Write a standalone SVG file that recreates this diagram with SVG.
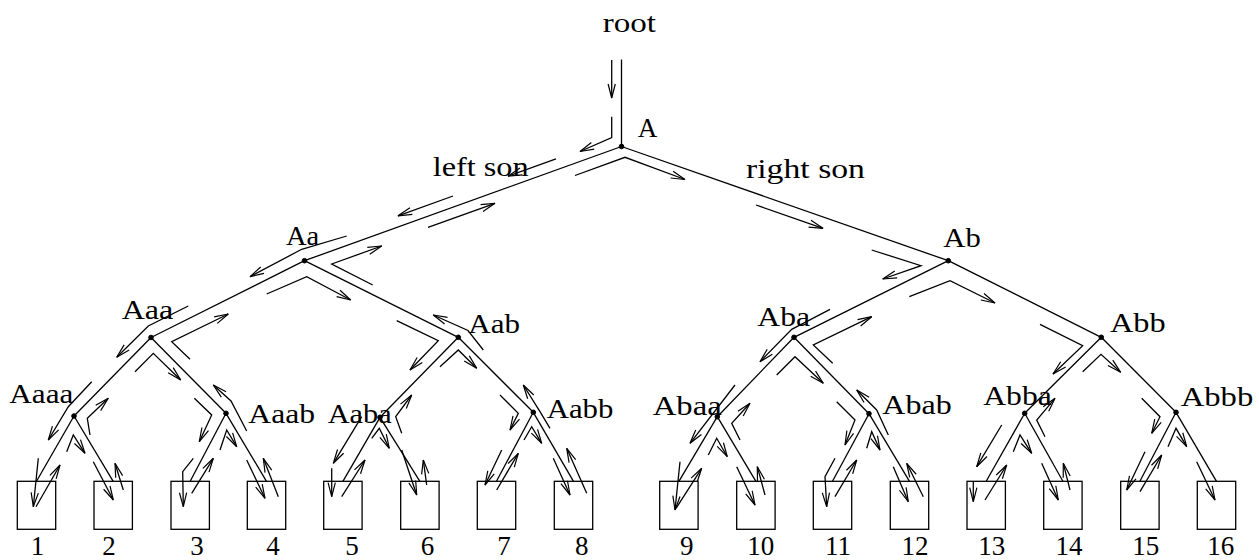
<svg xmlns="http://www.w3.org/2000/svg" width="1259" height="560" viewBox="0 0 1259 560">
<defs>
<style>
.e{stroke:#000;stroke-width:1.3;fill:none}
.t{stroke:#000;stroke-width:1.3;fill:none;marker-end:url(#ah)}
.lbl{font-family:"Liberation Serif",serif;font-size:27px;fill:#000}
.num{font-family:"Liberation Serif",serif;font-size:27px;fill:#000;text-anchor:middle}
.box{fill:none;stroke:#000;stroke-width:1.3}
.dot{fill:#000;stroke:#000;stroke-width:1}
</style>
<marker id="ah" markerUnits="userSpaceOnUse" viewBox="-16 -6 18 12" refX="0" refY="0" markerWidth="18" markerHeight="12" orient="auto" overflow="visible">
<path d="M-14,-3.6 L0,0 L-14,3.6" fill="none" stroke="#000" stroke-width="1.2"/>
</marker>
</defs>
<rect width="1259" height="560" fill="#fff"/>

<g id="edges">
<line class="e" x1="621.5" y1="59.5" x2="621.5" y2="146.5"/>
<line class="e" x1="621.5" y1="146.5" x2="304.5" y2="260.7"/>
<line class="e" x1="621.5" y1="146.5" x2="948.3" y2="260.7"/>
<line class="e" x1="304.5" y1="260.7" x2="151" y2="337.5"/>
<line class="e" x1="304.5" y1="260.7" x2="458.3" y2="337.3"/>
<line class="e" x1="948.3" y1="260.7" x2="794" y2="337.3"/>
<line class="e" x1="948.3" y1="260.7" x2="1101.3" y2="337.3"/>
<line class="e" x1="151" y1="337.5" x2="74" y2="416"/>
<line class="e" x1="151" y1="337.5" x2="226" y2="413.3"/>
<line class="e" x1="458.3" y1="337.3" x2="380" y2="417.3"/>
<line class="e" x1="458.3" y1="337.3" x2="533.3" y2="412.3"/>
<line class="e" x1="794" y1="337.3" x2="717.3" y2="416.7"/>
<line class="e" x1="794" y1="337.3" x2="869" y2="413.7"/>
<line class="e" x1="1101.3" y1="337.3" x2="1024.7" y2="413.3"/>
<line class="e" x1="1101.3" y1="337.3" x2="1176" y2="412.3"/>
<line class="e" x1="74" y1="416" x2="36.5" y2="481.3"/>
<line class="e" x1="74" y1="416" x2="113.2" y2="481.3"/>
<line class="e" x1="226" y1="413.3" x2="190.2" y2="481.3"/>
<line class="e" x1="226" y1="413.3" x2="266.5" y2="481.3"/>
<line class="e" x1="380" y1="417.3" x2="342.9" y2="481.3"/>
<line class="e" x1="380" y1="417.3" x2="419.9" y2="481.3"/>
<line class="e" x1="533.3" y1="412.3" x2="496.5" y2="481.3"/>
<line class="e" x1="533.3" y1="412.3" x2="573.5" y2="481.3"/>
<line class="e" x1="717.3" y1="416.7" x2="678.9" y2="481.3"/>
<line class="e" x1="717.3" y1="416.7" x2="755.9" y2="481.3"/>
<line class="e" x1="869" y1="413.7" x2="832.5" y2="481.3"/>
<line class="e" x1="869" y1="413.7" x2="909.5" y2="481.3"/>
<line class="e" x1="1024.7" y1="413.3" x2="986.2" y2="481.3"/>
<line class="e" x1="1024.7" y1="413.3" x2="1062.9" y2="481.3"/>
<line class="e" x1="1176" y1="412.3" x2="1139.9" y2="481.3"/>
<line class="e" x1="1176" y1="412.3" x2="1216.5" y2="481.3"/>
</g>

<g id="traversal">
<polyline class="t" points="611.7,60 611.7,98"/>
<polyline class="t" points="611.7,116.7 611.7,137.5 580,151.5"/>
<polyline class="t" points="556,158.9 508,176.2"/>
<polyline class="t" points="453,196 398,215.8"/>
<polyline class="t" points="428,227.4 495,203.3"/>
<polyline class="t" points="575,175.5 625,157.3 685,179.5"/>
<polyline class="t" points="756,205 823,228.3"/>
<polyline class="t" points="871.7,250 921,265.7 882.7,279"/>
<polyline class="t" points="909.3,296.7 950,280.7 995,303"/>

<polyline class="t" points="346.7,236 301.7,249.3 250,276.7"/>
<polyline class="t" points="266.7,294 306.7,276.7 350.7,300"/>
<polyline class="t" points="372.7,285 331.7,264 381.7,246"/>

<polyline class="t" points="188.3,306 148.3,326 116.7,357.3"/>
<polyline class="t" points="135,371.7 153.3,353.3 180.7,380"/>
<polyline class="t" points="190,359.3 171.7,341.7 228.3,314"/>

<polyline class="t" points="396.7,320.7 438.3,340.7 410,370"/>
<polyline class="t" points="440,366.7 458.3,350 476.7,368.3"/>
<polyline class="t" points="483.3,350 468,330.5 433.3,315"/>

<polyline class="t" points="830,309.3 791.7,329.3 760,361.7"/>
<polyline class="t" points="776.7,375 795,356.7 823.3,383.3"/>
<polyline class="t" points="832.7,363.3 813.3,345 871.7,316.7"/>

<polyline class="t" points="1040,324.3 1082.7,345.7 1053,374"/>
<polyline class="t" points="1082.7,371.7 1101,354.3 1120.7,372.3"/>

<polyline class="t" points="91.7,381.7 68.3,406.7 48.3,440"/>
<polyline class="t" points="38.3,458.3 33.3,506.7"/>
<polyline class="t" points="36,506.7 60,465"/>
<polyline class="t" points="66.7,451.7 73.3,435 85,453.3"/>
<polyline class="t" points="90,435 87.3,418.3 108.3,398.3"/>
<polyline class="t" points="93.3,461.7 113.3,500"/>
<polyline class="t" points="123.3,490 115,463.3"/>

<polyline class="t" points="194.3,398.3 211.7,415 199.3,441.7"/>
<polyline class="t" points="193.3,458.3 182.7,471.7 183.3,506.7"/>
<polyline class="t" points="191.7,493.3 213.3,458.3"/>
<polyline class="t" points="220,450 226.7,430 236.7,446.7"/>
<polyline class="t" points="246.7,460 265,498.3"/>
<polyline class="t" points="278.3,496.7 263.3,458.3"/>
<polyline class="t" points="246.7,431 231,401 213.3,385"/>

<polyline class="t" points="361.7,416.7 333.3,463.3"/>
<polyline class="t" points="331.7,468.3 331.7,496.7"/>
<polyline class="t" points="341.7,496.7 365,460"/>
<polyline class="t" points="371.7,438.3 379.3,428.3 389.3,448.3"/>
<polyline class="t" points="401.7,433.3 395.7,416.7 411.7,395"/>
<polyline class="t" points="401.7,450 416.7,495"/>
<polyline class="t" points="426.7,485 423.3,460"/>

<polyline class="t" points="500,395 518.3,413.3 510,430"/>
<polyline class="t" points="501.7,450 485,485"/>
<polyline class="t" points="496.7,490 518.3,453.3"/>
<polyline class="t" points="524,440 531.7,426.7 541.7,443.3"/>
<polyline class="t" points="550,428.3 540,411.7 523.3,385"/>
<polyline class="t" points="553.3,458.3 570,495"/>
<polyline class="t" points="586.7,493.3 566.7,448.3"/>

<polyline class="t" points="735,385 690,443.3"/>
<polyline class="t" points="680,461.7 675,510"/>
<polyline class="t" points="676,508.3 701.7,468.3"/>
<polyline class="t" points="708.3,455 716.7,438.3 727.3,456.7"/>
<polyline class="t" points="740,440 731.7,423.3 750,403.3"/>
<polyline class="t" points="736.7,466.7 755,505"/>
<polyline class="t" points="765,495 757.3,466.7"/>

<polyline class="t" points="836.7,401.7 855,420 845,445"/>
<polyline class="t" points="835,458.3 825,476.7 826.7,506.7"/>
<polyline class="t" points="835,496.7 856.7,460"/>
<polyline class="t" points="866.7,448.3 871.7,431.7 880,450"/>
<polyline class="t" points="888.3,435 876.7,410 856.7,390"/>
<polyline class="t" points="893.3,466.7 908.3,501.7"/>
<polyline class="t" points="923.3,496.7 906.7,463.3"/>

<polyline class="t" points="1001.7,425 976.7,466.7"/>
<polyline class="t" points="973.3,481.7 973.3,501.7"/>
<polyline class="t" points="985,500 1006.7,465"/>
<polyline class="t" points="1013.3,451.7 1020,435 1031.7,453.3"/>
<polyline class="t" points="1045,436.7 1036.7,420 1055,398.3"/>
<polyline class="t" points="1041.7,463.3 1058.3,500"/>
<polyline class="t" points="1070,490 1063.3,463.3"/>

<polyline class="t" points="1141.7,398.3 1160,416.7 1151.7,433.3"/>
<polyline class="t" points="1145,451.7 1126.7,490"/>
<polyline class="t" points="1140,491.7 1161.7,455"/>
<polyline class="t" points="1168,446.7 1176,428.3 1186.7,446.7"/>
<polyline class="t" points="1196.7,461.7 1215,500"/>
</g>

<g id="edge-labels">
<text class="lbl" x="432.7" y="176" textLength="96" lengthAdjust="spacingAndGlyphs">left son</text>
<text class="lbl" x="746" y="177.5" textLength="119" lengthAdjust="spacingAndGlyphs">right son</text>
</g>

<g id="root"><text class="lbl" x="602.7" y="31.5" textLength="53.3" lengthAdjust="spacingAndGlyphs">root</text></g>
<g id="A"><circle class="dot" cx="621.5" cy="146.5" r="2.3"/><text class="lbl" x="637.7" y="136.7" textLength="19.6" lengthAdjust="spacingAndGlyphs">A</text></g>
<g id="Aa"><circle class="dot" cx="304.5" cy="260.7" r="2.3"/><text class="lbl" x="286" y="245.3" textLength="33.3" lengthAdjust="spacingAndGlyphs">Aa</text></g>
<g id="Ab"><circle class="dot" cx="948.3" cy="260.7" r="2.3"/><text class="lbl" x="943.3" y="246.7" textLength="37.4" lengthAdjust="spacingAndGlyphs">Ab</text></g>
<g id="Aaa"><circle class="dot" cx="151" cy="337.5" r="2.3"/><text class="lbl" x="121.7" y="319.3" textLength="51.6" lengthAdjust="spacingAndGlyphs">Aaa</text></g>
<g id="Aab"><circle class="dot" cx="458.3" cy="337.3" r="2.3"/><text class="lbl" x="468.3" y="333.3" textLength="51.7" lengthAdjust="spacingAndGlyphs">Aab</text></g>
<g id="Aba"><circle class="dot" cx="794" cy="337.3" r="2.3"/><text class="lbl" x="757.3" y="326" textLength="52.7" lengthAdjust="spacingAndGlyphs">Aba</text></g>
<g id="Abb"><circle class="dot" cx="1101.3" cy="337.3" r="2.3"/><text class="lbl" x="1110" y="331.7" textLength="55.7" lengthAdjust="spacingAndGlyphs">Abb</text></g>
<g id="Aaaa"><circle class="dot" cx="74" cy="416" r="2.3"/><text class="lbl" x="9.3" y="402.7" textLength="64" lengthAdjust="spacingAndGlyphs">Aaaa</text></g>
<g id="Aaab"><circle class="dot" cx="226" cy="413.3" r="2.3"/><text class="lbl" x="248.3" y="423.3" textLength="66.7" lengthAdjust="spacingAndGlyphs">Aaab</text></g>
<g id="Aaba"><circle class="dot" cx="380" cy="417.3" r="2.3"/><text class="lbl" x="327.7" y="422.7" textLength="64" lengthAdjust="spacingAndGlyphs">Aaba</text></g>
<g id="Aabb"><circle class="dot" cx="533.3" cy="412.3" r="2.3"/><text class="lbl" x="546.7" y="418.3" textLength="66.7" lengthAdjust="spacingAndGlyphs">Aabb</text></g>
<g id="Abaa"><circle class="dot" cx="717.3" cy="416.7" r="2.3"/><text class="lbl" x="652.7" y="415" textLength="69" lengthAdjust="spacingAndGlyphs">Abaa</text></g>
<g id="Abab"><circle class="dot" cx="869" cy="413.7" r="2.3"/><text class="lbl" x="882.3" y="414" textLength="69.4" lengthAdjust="spacingAndGlyphs">Abab</text></g>
<g id="Abba"><circle class="dot" cx="1024.7" cy="413.3" r="2.3"/><text class="lbl" x="983.3" y="405" textLength="68.4" lengthAdjust="spacingAndGlyphs">Abba</text></g>
<g id="Abbb"><circle class="dot" cx="1176" cy="412.3" r="2.3"/><text class="lbl" x="1180.7" y="405.7" textLength="72.6" lengthAdjust="spacingAndGlyphs">Abbb</text></g>

<g id="leaf1"><rect class="box" x="17.3" y="481.3" width="38.4" height="48"/><text class="num" x="37.5" y="555">1</text></g>
<g id="leaf2"><rect class="box" x="94" y="481.3" width="38.4" height="48"/><text class="num" x="109" y="555">2</text></g>
<g id="leaf3"><rect class="box" x="171" y="481.3" width="38.4" height="48"/><text class="num" x="197" y="555">3</text></g>
<g id="leaf4"><rect class="box" x="247.3" y="481.3" width="38.4" height="48"/><text class="num" x="273" y="555">4</text></g>
<g id="leaf5"><rect class="box" x="323.7" y="481.3" width="38.4" height="48"/><text class="num" x="352" y="555">5</text></g>
<g id="leaf6"><rect class="box" x="400.7" y="481.3" width="38.4" height="48"/><text class="num" x="427.5" y="555">6</text></g>
<g id="leaf7"><rect class="box" x="477.3" y="481.3" width="38.4" height="48"/><text class="num" x="504" y="555">7</text></g>
<g id="leaf8"><rect class="box" x="554.3" y="481.3" width="38.4" height="48"/><text class="num" x="581.7" y="555">8</text></g>
<g id="leaf9"><rect class="box" x="659.7" y="481.3" width="38.4" height="48"/><text class="num" x="686.7" y="555">9</text></g>
<g id="leaf10"><rect class="box" x="736.7" y="481.3" width="38.4" height="48"/><text class="num" x="760.8" y="555">10</text></g>
<g id="leaf11"><rect class="box" x="813.3" y="481.3" width="38.4" height="48"/><text class="num" x="838" y="555">11</text></g>
<g id="leaf12"><rect class="box" x="890.3" y="481.3" width="38.4" height="48"/><text class="num" x="915" y="555">12</text></g>
<g id="leaf13"><rect class="box" x="967" y="481.3" width="38.4" height="48"/><text class="num" x="991.7" y="555">13</text></g>
<g id="leaf14"><rect class="box" x="1043.7" y="481.3" width="38.4" height="48"/><text class="num" x="1069" y="555">14</text></g>
<g id="leaf15"><rect class="box" x="1120.7" y="481.3" width="38.4" height="48"/><text class="num" x="1145.8" y="555">15</text></g>
<g id="leaf16"><rect class="box" x="1197.3" y="481.3" width="38.4" height="48"/><text class="num" x="1220.8" y="555">16</text></g>
</svg>
